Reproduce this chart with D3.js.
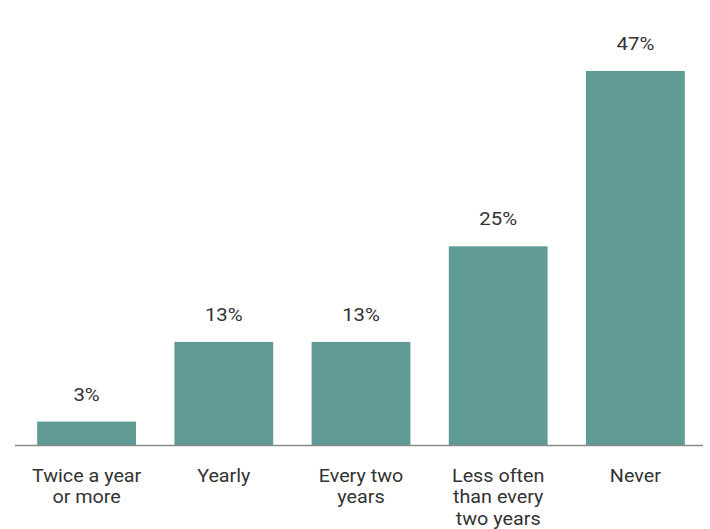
<!DOCTYPE html>
<html>
<head>
<meta charset="utf-8">
<script src="https://cdn.jsdelivr.net/npm/d3@7"></script>
<style>
  html, body { margin: 0; padding: 0; background: #fff; }
  svg { display: block; }
  text { font-family: Roboto, "Open Sans", sans-serif; fill: #333; }
</style>
</head>
<body>
<svg id="chart" width="710" height="529"></svg>
<script>
// How often respondents do it (share of respondents, %)
const categories = ["Twice a year or more", "Yearly", "Every two years", "Less often than every two years", "Never"];
const labelLines = [["Twice a year", "or more"], ["Yearly"], ["Every two", "years"], ["Less often", "than every", "two years"], ["Never"]];
const values = [3, 13, 13, 25, 47];

const svg = d3.select("#chart");
const baseY = 445.5;
const stretch = 1.13; // slightly wide lettering

const x = d3.scaleBand()
  .domain(categories)
  .range([18, 704])
  .paddingInner(0.28)
  .paddingOuter(0.14);

const y = d3.scaleLinear()
  .domain([0, 47])
  .range([baseY, 71]);

// bars
svg.append("g").selectAll("rect")
  .data(categories)
  .join("rect")
  .attr("x", d => x(d))
  .attr("y", (d, i) => y(values[i]))
  .attr("width", x.bandwidth())
  .attr("height", (d, i) => baseY - y(values[i]))
  .attr("fill", "#5f9a94");

// baseline
svg.append("line")
  .attr("x1", 15).attr("x2", 703)
  .attr("y1", baseY).attr("y2", baseY)
  .attr("stroke", "#8a8a8a")
  .attr("stroke-width", 1.5);

// value labels
svg.append("g").selectAll("text")
  .data(categories)
  .join("text")
  .attr("transform", (d, i) =>
    `translate(${x(d) + x.bandwidth() / 2},${y(values[i]) - 21}) scale(${stretch},1)`)
  .attr("text-anchor", "middle")
  .style("font-size", "18px")
  .text((d, i) => values[i] + "%");

// category labels
const cat = svg.append("g").selectAll("text")
  .data(categories)
  .join("text")
  .attr("transform", d => `translate(${x(d) + x.bandwidth() / 2},481.5) scale(${stretch},1)`)
  .attr("text-anchor", "middle")
  .style("font-size", "17.5px");

cat.selectAll("tspan")
  .data((d, i) => labelLines[i])
  .join("tspan")
  .attr("x", 0)
  .attr("dy", (d, j) => j === 0 ? 0 : 22)
  .text(d => d);
</script>
</body>
</html>
